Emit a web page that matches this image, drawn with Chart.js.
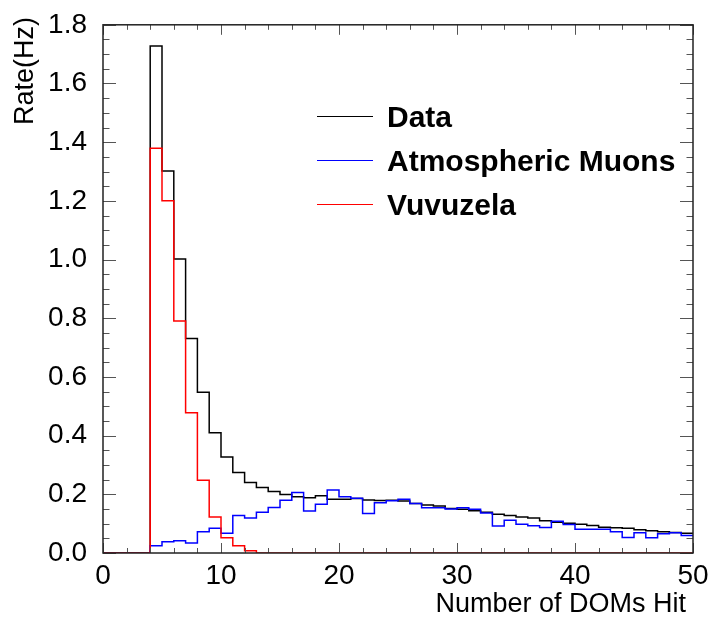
<!DOCTYPE html>
<html>
<head>
<meta charset="utf-8">
<title>Number of DOMs Hit</title>
<script src="https://cdn.jsdelivr.net/npm/chart.js@4.4.1/dist/chart.umd.min.js"></script>
<style>
    html, body { margin: 0; padding: 0; background: #fff; }
    #wrap { width: 712px; height: 621px; }
</style>
</head>
<body>
<div id="wrap"><canvas id="hist" width="712" height="621"></canvas></div>
<script>
// --- datos: una entrada por bin de ancho 1, desde 0 hasta 50 ---
const binEdges = [0, 50];
const seriesLabels = ['Data', 'Atmospheric Muons', 'Vuvuzela'];
const seriesColors = ['#000000', '#0000ff', '#ff0000'];

const dataRate = [
    0, 0, 0, 0, 1.728, 1.302, 1.002, 0.731, 0.548, 0.410,
    0.327, 0.274, 0.240, 0.223, 0.210, 0.199, 0.192, 0.188, 0.195, 0.183,
    0.183, 0.186, 0.181, 0.179, 0.180, 0.177, 0.169, 0.164, 0.160, 0.152,
    0.149, 0.144, 0.139, 0.132, 0.128, 0.123, 0.119, 0.110, 0.105, 0.101,
    0.098, 0.094, 0.088, 0.086, 0.084, 0.079, 0.076, 0.072, 0.070, 0.067
];
const muonRate = [
    0, 0, 0, 0, 0.025, 0.038, 0.042, 0.034, 0.072, 0.084,
    0.067, 0.128, 0.119, 0.139, 0.155, 0.180, 0.206, 0.143, 0.166, 0.215,
    0.192, 0.187, 0.135, 0.171, 0.178, 0.183, 0.169, 0.154, 0.154, 0.150,
    0.154, 0.149, 0.136, 0.092, 0.112, 0.098, 0.093, 0.087, 0.108, 0.097,
    0.081, 0.081, 0.081, 0.072, 0.053, 0.069, 0.052, 0.066, 0.069, 0.060
];
const vuvuRate = [
    0, 0, 0, 0, 1.379, 1.200, 0.791, 0.478, 0.248, 0.123,
    0.052, 0.025, 0.008, 0, 0, 0, 0, 0, 0, 0,
    0, 0, 0, 0, 0, 0, 0, 0, 0, 0,
    0, 0, 0, 0, 0, 0, 0, 0, 0, 0,
    0, 0, 0, 0, 0, 0, 0, 0, 0, 0
];

const yRange = [0, 1.8];
const FONT = "'Liberation Sans', Arial, Helvetica, sans-serif";

// histograma -> puntos escalonados (borde inferior de cada bin + cierre en 50)
function toSteps(values) {
    const pts = values.map((v, i) => ({ x: binEdges[0] + i, y: v }));
    pts.push({ x: binEdges[0] + values.length, y: values[values.length - 1] });
    return pts;
}

// --- marco y ticks estilo ROOT (hacia dentro, en los 4 lados) ---
const rootFrame = {
    id: 'rootFrame',
    afterDatasetsDraw(chart) {
        const { ctx, chartArea: a, scales } = chart;
        const xs = scales.x, ys = scales.y;
        ctx.save();
        ctx.strokeStyle = '#555';
        ctx.lineWidth = 1;
        ctx.beginPath();
        for (let v = binEdges[0]; v <= binEdges[1]; v += 2) {
            const px = Math.round(xs.getPixelForValue(v)) + 0.5;
            const len = v % 10 === 0 ? 10 : 5;
            ctx.moveTo(px, a.bottom); ctx.lineTo(px, a.bottom - len);
            ctx.moveTo(px, a.top); ctx.lineTo(px, a.top + len);
        }
        for (let k = 0; k <= 36; k++) {
            const v = k * 0.05;
            const py = Math.round(ys.getPixelForValue(v)) + 0.5;
            const len = k % 4 === 0 ? 13 : 6.5;
            ctx.moveTo(a.left, py); ctx.lineTo(a.left + len, py);
            ctx.moveTo(a.right, py); ctx.lineTo(a.right - len, py);
        }
        ctx.stroke();

        ctx.strokeStyle = '#222';
        ctx.lineWidth = 1.5;
        ctx.strokeRect(a.left, a.top, a.right - a.left, a.bottom - a.top);

        // títulos de ejes
        ctx.fillStyle = '#000';
        ctx.font = '27px ' + FONT;
        ctx.textAlign = 'right';
        ctx.textBaseline = 'alphabetic';
        ctx.fillText('Number of DOMs Hit', 686, 612);

        ctx.save();
        ctx.translate(33, 17);
        ctx.rotate(-Math.PI / 2);
        ctx.font = '27px ' + FONT;
        ctx.textAlign = 'right';
        ctx.fillText('Rate(Hz)', 0, 0);
        ctx.restore();

        // leyenda
        ctx.font = 'bold 30px ' + FONT;
        ctx.textAlign = 'left';
        seriesLabels.forEach((lab, i) => {
            const y = 116 + i * 44;
            ctx.strokeStyle = seriesColors[i];
            ctx.lineWidth = 1.2;
            ctx.beginPath();
            ctx.moveTo(317, y + 0.5); ctx.lineTo(373, y + 0.5);
            ctx.stroke();
            ctx.fillStyle = '#000';
            ctx.fillText(lab, 387, y + 11);
        });
        ctx.restore();
    }
};

const series = [dataRate, muonRate, vuvuRate];

new Chart(document.getElementById('hist'), {
    type: 'line',
    data: {
        datasets: series.map((vals, i) => ({
            label: seriesLabels[i],
            data: toSteps(vals),
            borderColor: seriesColors[i],
            borderWidth: 1.5,
            pointRadius: 0,
            stepped: true,
            fill: false,
            order: 3 - i
        }))
    },
    options: {
        responsive: false,
        animation: false,
        layout: { padding: { left: 0, right: 19, top: 23, bottom: 0 } },
        plugins: { legend: { display: false }, tooltip: { enabled: false } },
        scales: {
            x: {
                type: 'linear',
                min: binEdges[0],
                max: binEdges[1],
                grid: { display: false },
                border: { display: false },
                ticks: {
                    stepSize: 10,
                    padding: -2,
                    color: '#000',
                    font: { family: FONT, size: 28 },
                    maxRotation: 0
                },
                afterFit(scale) { scale.height = 68; }
            },
            y: {
                min: yRange[0],
                max: yRange[1],
                grid: { display: false },
                border: { display: false },
                ticks: {
                    stepSize: 0.2,
                    padding: 8,
                    color: '#000',
                    font: { family: FONT, size: 28 },
                    callback: v => v.toFixed(1)
                },
                afterFit(scale) { scale.width = 103; }
            }
        }
    },
    plugins: [rootFrame]
});
</script>
</body>
</html>
